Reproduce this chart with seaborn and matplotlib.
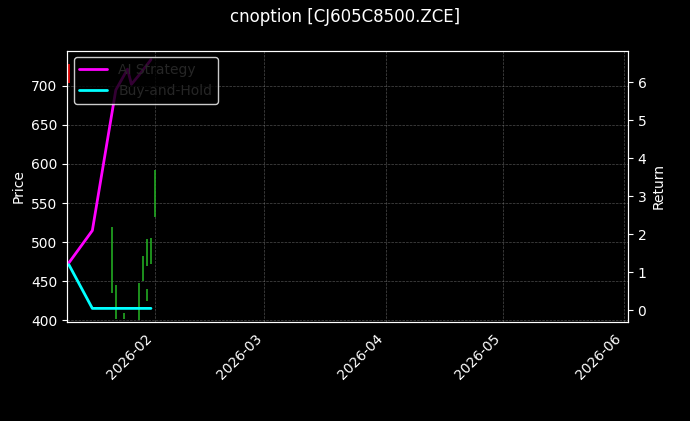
import numpy as np
import pandas as pd
import matplotlib
matplotlib.use("Agg")
import matplotlib.pyplot as plt
import matplotlib.dates as mdates
import seaborn as sns

# candles
candle_dates = ["2026-01-10", "2026-01-21", "2026-01-22", "2026-01-24", "2026-01-28",
                "2026-01-29", "2026-01-30", "2026-01-30", "2026-01-31", "2026-02-01"]
candle_high = [728, 520, 446, 410, 448, 482, 440, 504, 505, 592]
candle_low = [703, 435, 402, 402, 400, 450, 425, 470, 472, 532]
candle_up = [False, True, True, True, True, True, True, True, True, True]

ret_dates = ["2026-01-10", "2026-01-16", "2026-01-22", "2026-01-25", "2026-01-26",
             "2026-01-28", "2026-01-31"]
ai_strategy = [1.25, 2.1, 5.8, 6.35, 5.95, 6.2, 6.6]
buy_hold = [1.2, 0.05, 0.05, 0.05, 0.05, 0.05, 0.05]

plt.style.use("dark_background")
sns.set_style("dark", {"axes.facecolor": "black", "figure.facecolor": "black"})
plt.rcParams["font.family"] = ["DejaVu Sans"]

fig, ax = plt.subplots(figsize=(6.9, 4.21), dpi=100)
fig.patch.set_facecolor("black")
ax.set_facecolor("black")

cd = pd.to_datetime(candle_dates)
for d, h, l, up in zip(cd, candle_high, candle_low, candle_up):
    ax.vlines(d, l, h, color="#22aa22" if up else "red", linewidth=1.2)
ax.set_ylim(398, 745)
ax.set_ylabel("Price", color="white")
ax.grid(True, color="gray", linestyle="--", linewidth=0.5, alpha=0.6)

ax2 = ax.twinx()
df = pd.DataFrame({"date": pd.to_datetime(ret_dates), "AI Strategy": ai_strategy,
                   "Buy-and-Hold": buy_hold})
sns.lineplot(data=df, x="date", y="AI Strategy", ax=ax2, color="#ff00ff", linewidth=2, label="AI Strategy")
sns.lineplot(data=df, x="date", y="Buy-and-Hold", ax=ax2, color="#00ffff", linewidth=2, label="Buy-and-Hold")
ax2.set_ylim(-0.31, 6.84)
ax2.set_ylabel("Return", color="white")
ax2.legend(loc="upper left", facecolor="black", edgecolor="white", framealpha=0.8)

ax.set_xlim(pd.Timestamp("2026-01-09 12:00"), pd.Timestamp("2026-06-02"))
ax.xaxis.set_major_locator(mdates.MonthLocator())
ax.xaxis.set_major_formatter(mdates.DateFormatter("%Y-%m"))
ax2.set_xlabel("")
ax.set_xlabel("")
for lab in ax.get_xticklabels():
    lab.set_rotation(45)
    lab.set_ha("right")
for a in (ax, ax2):
    for s in a.spines.values():
        s.set_color("white")
    a.tick_params(colors="white")

fig.suptitle("cnoption [CJ605C8500.ZCE]", color="white")
fig.subplots_adjust(left=0.097, right=0.91, top=0.88, bottom=0.235)
fig.savefig("out.png", facecolor="black")
